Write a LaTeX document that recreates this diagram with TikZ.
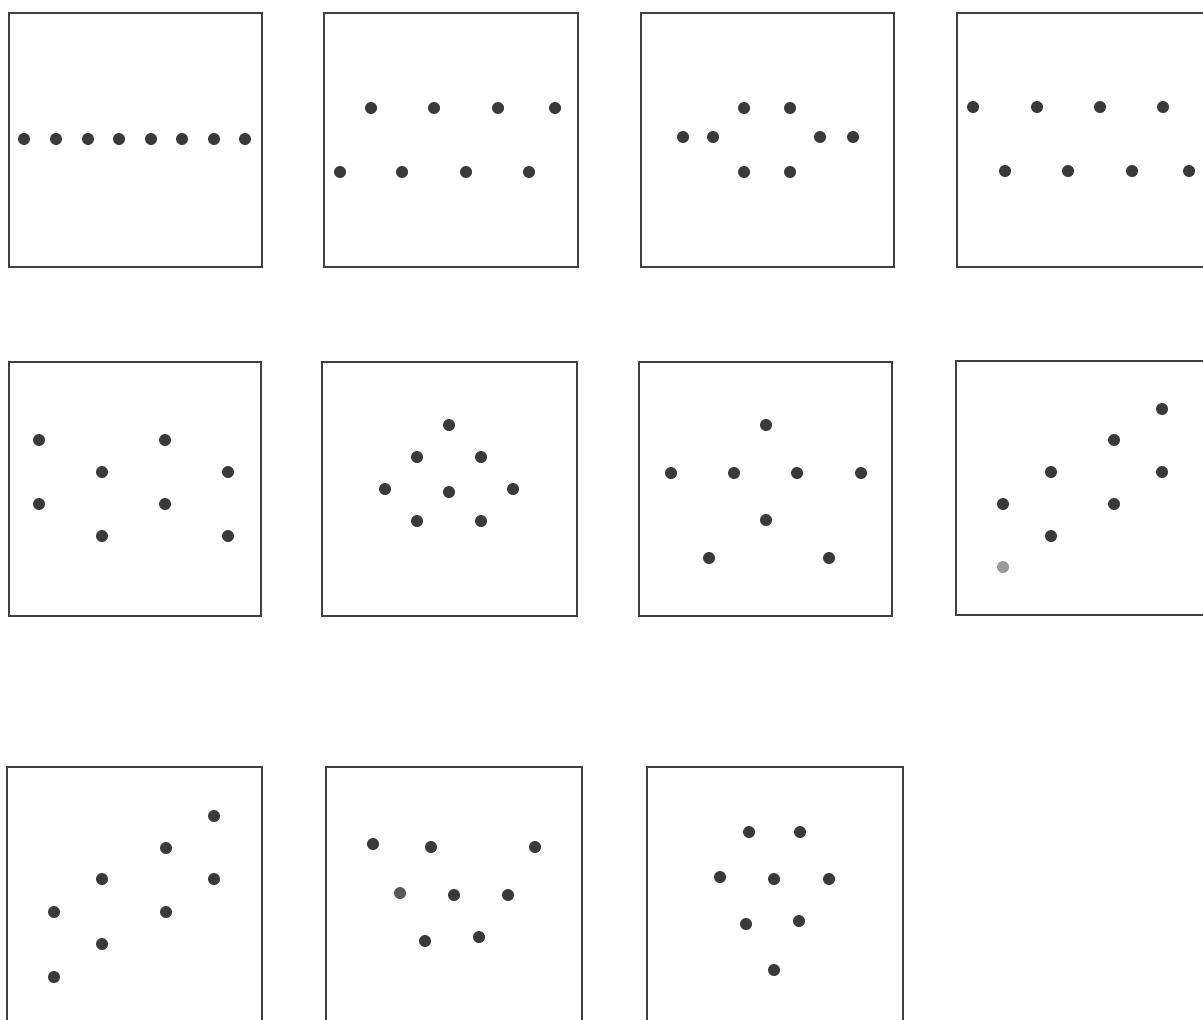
\documentclass[tikz,border=0pt]{standalone}
\usepackage{xcolor}
\definecolor{ink}{HTML}{3A3A3A}
\definecolor{frame}{HTML}{404040}
\definecolor{lightdot}{HTML}{9A9A9A}
\begin{document}
\begin{tikzpicture}[x=1pt,y=-1pt,
  panel/.style={draw=frame,line width=1.4pt},
  dot/.style={fill=ink},
  pale/.style={fill=lightdot}]
\useasboundingbox (0,0) rectangle (1203,1020);
\clip (0,0) rectangle (1203,1020);
\def\r{6}
% Row 1
\draw[panel] (9,13) rectangle (262,267);
\foreach \x in {24,56,88,119,151,182,214,245} \fill[dot] (\x,139) circle (\r);

\draw[panel] (324,13) rectangle (578,267);
\foreach \x in {371,434,498,555} \fill[dot] (\x,108) circle (\r);
\foreach \x in {340,402,466,529} \fill[dot] (\x,172) circle (\r);

\draw[panel] (641,13) rectangle (894,267);
\foreach \p in {(744,108),(790,108),(683,137),(713,137),(820,137),(853,137),(744,172),(790,172)} \fill[dot] \p circle (\r);

\draw[panel] (957,13) rectangle (1211,267);
\foreach \x in {973,1037,1100,1163} \fill[dot] (\x,107) circle (\r);
\foreach \x in {1005,1068,1132,1189} \fill[dot] (\x,171) circle (\r);

% Row 2
\draw[panel] (9,362) rectangle (261,616);
\foreach \p in {(39,440),(165,440),(102,472),(228,472),(39,504),(165,504),(102,536),(228,536)} \fill[dot] \p circle (\r);

\draw[panel] (322,362) rectangle (577,616);
\foreach \p in {(449,425),(417,457),(481,457),(385,489),(449,492),(513,489),(417,521),(481,521)} \fill[dot] \p circle (\r);

\draw[panel] (639,362) rectangle (892,616);
\foreach \p in {(766,425),(671,473),(734,473),(797,473),(861,473),(766,520),(709,558),(829,558)} \fill[dot] \p circle (\r);

\draw[panel] (956,361) rectangle (1211,615);
\foreach \p in {(1162,409),(1114,440),(1051,472),(1162,472),(1003,504),(1114,504),(1051,536)} \fill[dot] \p circle (\r);
\fill[pale] (1003,567) circle (\r);

% Row 3
\draw[panel] (7,767) rectangle (262,1022);
\foreach \p in {(214,816),(166,848),(102,879),(214,879),(54,912),(166,912),(102,944),(54,977)} \fill[dot] \p circle (\r);

\draw[panel] (326,767) rectangle (582,1022);
\foreach \p in {(373,844),(431,847),(535,847),(454,895),(508,895),(425,941),(479,937)} \fill[dot] \p circle (\r);
\fill[fill=ink!85] (400,893) circle (\r);

\draw[panel] (647,767) rectangle (903,1022);
\foreach \p in {(749,832),(800,832),(720,877),(774,879),(829,879),(746,924),(799,921),(774,970)} \fill[dot] \p circle (\r);
\end{tikzpicture}
\end{document}
